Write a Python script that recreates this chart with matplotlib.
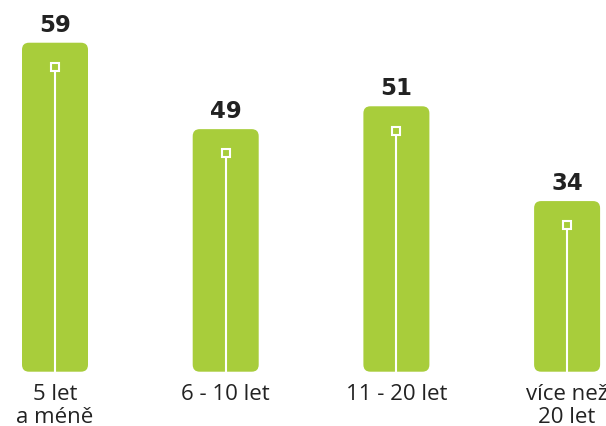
import matplotlib
matplotlib.use("Agg")
import matplotlib.pyplot as plt
from matplotlib.patches import FancyBboxPatch

# data
categories = ["5 let\na méně", "6 - 10 let", "11 - 20 let", "více než\n20 let"]
labels = [59, 49, 51, 34]            # numbers printed above the bars
heights = [59, 43.5, 47.6, 30.6]     # bar heights as drawn

GREEN = "#a8cd3b"
DARK = "#222222"

W, H = 606, 427
fig = plt.figure(figsize=(W / 100, H / 100), dpi=100)
ax = fig.add_axes([0, 0, 1, 1])

# scale: one x unit = one bar slot, one y unit = 5.576 px
px_x = 170.7
px_y = 5.576
x0_px = 55
base_px = 372.7
ax.set_xlim(-x0_px / px_x, (W - x0_px) / px_x)
ax.set_ylim(-(H - base_px) / px_y, base_px / px_y)
ax.axis("off")

bar_w = 66 / px_x
aspect = px_x / px_y
radius = 7 / px_x
marker_drop = 24.3 / px_y

for i, (cat, lab, h) in enumerate(zip(categories, labels, heights)):
    box = FancyBboxPatch((i - bar_w / 2, 0), bar_w, h,
                         boxstyle=f"round,pad=0,rounding_size={radius}",
                         mutation_aspect=aspect, fc=GREEN, ec="none", zorder=2)
    ax.add_patch(box)
    my = h - marker_drop
    ax.plot([i, i], [0, my], color="white", lw=1.5, zorder=3, solid_capstyle="butt")
    ax.plot(i, my, marker="s", ms=6, mfc=GREEN, mec="white", mew=1.5, zorder=4)
    ax.annotate(str(lab), (i, h), xytext=(0, 8.5), textcoords="offset points",
                ha="center", va="baseline", fontsize=16.5, fontweight="bold",
                color=DARK, family="DejaVu Sans")
    ax.annotate(cat, (i, 0), xytext=(0, -8), textcoords="offset points",
                ha="center", va="top", fontsize=16, color=DARK,
                family="Open Sans", linespacing=1.15)

fig.savefig("out.png", dpi=100)
